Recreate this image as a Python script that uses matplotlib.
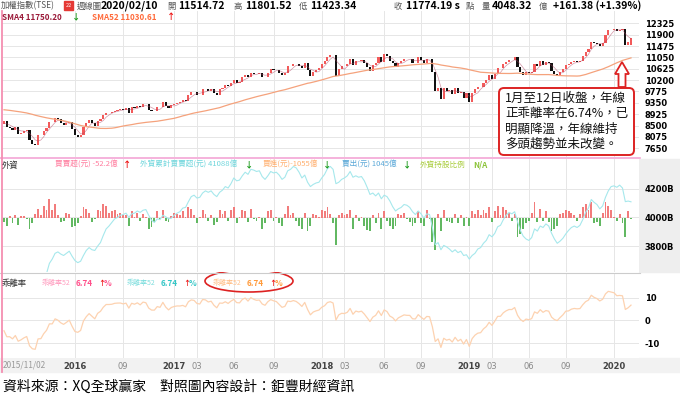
import numpy as np
import matplotlib
matplotlib.use("Agg")
import matplotlib.pyplot as plt
from matplotlib.patches import Rectangle, FancyBboxPatch, Ellipse, Polygon
from matplotlib.transforms import Affine2D

CJK = ["Noto Sans CJK TC", "DejaVu Sans"]

# ── data ────────────────────────────────────────────────────────────────────
# 52 weekly closes before the window (Nov 2014 - Oct 2015), only seed SMA52
pre_closes = [
    8950, 9000, 9050, 9187, 9150, 8950, 9050, 9250, 9290,
    9250, 9200, 9450, 9361, 9550, 9560, 9560, 9622,
    9600, 9540, 9740, 9590, 9600, 9900, 9950, 9970, 9820,
    9700, 9700, 9680, 9701, 9400, 9270, 9200, 9320,
    9400, 8970, 9000, 8790, 8665, 8300, 8050, 7786, 8020,
    8100, 8170, 8300, 8100, 8200, 8400, 8520, 8600, 8554,
]

# weekly TAIEX closes, 2015/11/02 .. 2020/02/10
closes = [
    8680, 8430, 8420, 8320,                       # 2015-11
    8440, 8200, 8240, 8300, 8338,                 # 2015-12
    7950, 7810, 7760, 8145,                       # 2016-01
    8130, 8300, 8410,                             # 02
    8640, 8620, 8800, 8730,                       # 03
    8610, 8530, 8580, 8640, 8377,                 # 04
    8150, 8090, 8130, 8460,                       # 05
    8600, 8700, 8590, 8480,                       # 06
    8670, 8730, 8880, 8980, 8984,                 # 07
    9000, 9050, 9080, 9110,                       # 08
    9100, 9150, 8980, 9180, 9166,                 # 09
    9240, 9180, 9300, 9290,                       # 10
    9100, 9030, 9040, 9190,                       # 11
    9180, 9390, 9230, 9140, 9254,                 # 12
    9310, 9360, 9390, 9448,                       # 2017-01
    9420, 9650, 9750, 9760,                       # 02
    9660, 9660, 9860, 9870, 9811,                 # 03
    9870, 9730, 9650, 9872,                       # 04
    9900, 10000, 9970, 10100,                     # 05
    10200, 10100, 10120, 10300, 10395,            # 06
    10300, 10480, 10440, 10427,                   # 07
    10470, 10330, 10300, 10480, 10600,            # 08
    10580, 10580, 10480, 10384,                   # 09
    10450, 10710, 10720, 10794,                   # 10
    10790, 10730, 10640, 10850, 10570,            # 11
    10350, 10500, 10580, 10643,                   # 12
    10800, 10900, 11080, 11150, 11127,            # 2018-01
    10370, 10620, 10710,                          # 02
    10720, 10800, 11000, 10750, 10919,            # 03
    10900, 10960, 10850, 10690,                   # 04
    10530, 10750, 10850, 11080, 10875,            # 05
    11160, 11100, 10900, 10837,                   # 06
    10690, 10840, 10920, 11000,                   # 07
    10990, 11000, 10850, 10850, 11064,            # 08
    10950, 10850, 11000, 10998,                   # 09
    10517, 9806, 9919, 9490,                      # 10
    9907, 9800, 9830, 9680, 9888,                 # 11
    9700, 9770, 9530, 9727,                       # 12
    9380, 9720, 9860, 9930, 9932,                 # 2019-01
    10100, 10200, 10390,                          # 02
    10240, 10430, 10640, 10641,                   # 03
    10800, 10890, 10950, 10950, 11050,            # 04
    10700, 10500, 10400, 10498,                   # 05
    10460, 10500, 10800, 10731,                   # 06
    10900, 10780, 10860, 10830, 10550,            # 07
    10430, 10370, 10500, 10618,                   # 08
    10780, 10790, 10870, 10900,                   # 09
    10880, 10900, 11100, 11270, 11380,            # 10
    11640, 11580, 11560, 11489,                   # 11
    11600, 11900, 12070, 12090,                   # 12
    12110, 12025, 12090, 12118.71, 11495.10,      # 2020-01
    11612.81, 11774.19,                           # 02
]
weeks_per_month = [4, 5,
                   4, 3, 4, 5, 4, 4, 5, 4, 5, 4, 4, 5,
                   4, 4, 5, 4, 4, 5, 4, 5, 4, 4, 5, 4,
                   5, 3, 5, 4, 5, 4, 4, 5, 4, 4, 5, 4,
                   5, 3, 4, 5, 4, 4, 5, 4, 4, 5, 4, 4,
                   5, 2]
last_open = 11514.72

# foreign net buy per week (億)
net_buy = [
    -150, -300, 80, -200,
    120, -250, 60, 90, -40,
    -400, -200, 150, 350,
    100, 450, 300,
    700, 300, 500, 100,
    -150, -100, 200, 150, -350,
    -300, -200, 80, 400,
    350, 200, -150, -50,
    300, 250, 500, 450, 200,
    250, 300, 150, 200,
    100, 120, -300, 250, 50,
    200, -100, 150, 50,
    -400, -350, -150, 250,
    -50, 300, -100, -150, 80,
    200, 150, 100, 250,
    50, 400, 350, 100,
    -200, 50, 300, 150, -100,
    100, -250, -150, 300,
    150, 250, -100, 300,
    400, -200, 50, 300, 250,
    -150, 350, -50, -100,
    50, -400, -200, 250, 300,
    -100, 50, -200, -300,
    150, 450, 100, 200,
    -100, -300, -400, 200, -500,
    -300, 150, 100, 50,
    300, 250, 400, 150, -200,
    -1000, 100, 200,
    100, 150, 300, -400, 100,
    -100, 50, -300, -450,
    -500, 100, -200, 200, -400,
    250, -100, -300, -400,
    -300, 150, 100, 200,
    -50, -150, -300, -200, 250,
    -200, -300, 300, -50,
    -900, -1200, 150, -500,
    300, -100, -150, -200, 150,
    -200, 100, -300, 50,
    -300, 250, 150, 300, 100,
    300, 200, 400,
    -150, 250, 450, 100,
    400, 300, 200, -100, 150,
    -700, -600, -400, -200,
    -100, 200, 600, -150,
    350, -100, 250, -150, -500,
    -400, -300, 150, 200,
    300, 250, 200, 100,
    -100, 150, 400, 500, 300,
    600, -200, -150, -300,
    200, 600, 450, 300,
    50, -100, 150, -200, -700,
    250, -52.2,
]

# foreign cumulative net buy (B = 10億)
foreign_total = [
    3580, 3555, 3550, 3540,
    3550, 3535, 3530, 3540, 3535,
    3500, 3485, 3495, 3525,
    3535, 3580, 3610,
    3680, 3710, 3750, 3760,
    3745, 3735, 3750, 3765, 3730,
    3700, 3685, 3695, 3735,
    3770, 3790, 3775, 3770,
    3800, 3825, 3875, 3920, 3940,
    3965, 3990, 4000, 4015,
    4020, 4030, 4000, 4025, 4030,
    4045, 4035, 4050, 4055,
    4015, 3980, 3965, 3990,
    3985, 4015, 4005, 3990, 3995,
    4015, 4030, 4040, 4065,
    4070, 4110, 4145, 4155,
    4135, 4140, 4170, 4185, 4175,
    4185, 4160, 4145, 4175,
    4190, 4215, 4205, 4235,
    4275, 4255, 4260, 4290, 4315,
    4300, 4335, 4330, 4320,
    4325, 4285, 4265, 4290, 4320,
    4310, 4315, 4295, 4265,
    4280, 4325, 4335, 4355,
    4345, 4315, 4275, 4295, 4245,
    4215, 4230, 4240, 4245,
    4275, 4300, 4340, 4355, 4335,
    4235, 4245, 4265,
    4275, 4290, 4320, 4280, 4290,
    4280, 4285, 4255, 4210,
    4160, 4170, 4150, 4170, 4130,
    4155, 4145, 4115, 4075,
    4045, 4060, 4070, 4090,
    4085, 4070, 4040, 4020, 4045,
    4025, 3995, 4025, 4020,
    3930, 3810, 3825, 3775,
    3805, 3795, 3780, 3760, 3775,
    3755, 3765, 3735, 3740,
    3710, 3735, 3750, 3780, 3790,
    3820, 3840, 3880,
    3865, 3890, 3935, 3945,
    3985, 4015, 4035, 4025, 4040,
    3970, 3910, 3870, 3850,
    3840, 3860, 3920, 3905,
    3940, 3930, 3955, 3940, 3890,
    3850, 3820, 3835, 3855,
    3885, 3910, 3930, 3940,
    3930, 3945, 3985, 4035, 4065,
    4125, 4105, 4090, 4060,
    4080, 4140, 4185, 4215,
    4220, 4210, 4225, 4205, 4110,
    4114, 4108.8,
]

price_ticks = [7650, 8075, 8500, 8925, 9350, 9775, 10200, 10625,
               11050, 11475, 11900, 12325]
flow_ticks = [3800, 4000, 4200]
bias_ticks = [-10, 0, 10]
date_ticks = [("2016", 2016, 5), ("09", 2016, 9), ("2017", 2017, 1),
              ("03", 2017, 3), ("06", 2017, 6), ("09", 2017, 9),
              ("2018", 2018, 1), ("03", 2018, 3), ("06", 2018, 6),
              ("09", 2018, 9), ("2019", 2019, 1), ("03", 2019, 3),
              ("06", 2019, 6), ("09", 2019, 9), ("2020", 2020, 1)]

# ── derived series ──────────────────────────────────────────────────────────
assert sum(weeks_per_month) == len(closes) == len(net_buy) == len(foreign_total)
n = len(closes)
x = np.arange(n)
c = np.array(closes, dtype=float)
o = np.concatenate([[pre_closes[-1]], c[:-1]])
o[-1] = last_open
allc = np.array(pre_closes + closes, dtype=float)
sma52 = np.convolve(allc, np.ones(52) / 52, mode="valid")[1:]
sma4 = np.convolve(allc, np.ones(4) / 4, mode="valid")[-n:]
bias = (c / sma52 - 1) * 100
nb = np.array(net_buy, dtype=float)

first_bar = {}
i = 0
y0, m0 = 2015, 11
for k, cnt in enumerate(weeks_per_month):
    yy = y0 + (m0 - 1 + k) // 12
    mm = (m0 - 1 + k) % 12 + 1
    first_bar[(yy, mm)] = i
    i += cnt

# ── figure ──────────────────────────────────────────────────────────────────
W, H = 680, 408
fig = plt.figure(figsize=(W / 100, H / 100), dpi=100)
fig.patch.set_facecolor("white")
pix = Affine2D().scale(1 / W, -1 / H).translate(0, 1) + fig.transFigure


def add_ax(top, bottom):
    return fig.add_axes([2 / W, 1 - bottom / H, 637 / W, (bottom - top) / H])


def ftext(px, py, s, size=6, color="black", weight="normal", ha="left", family=CJK):
    fig.text(px, py, s, transform=pix, fontsize=size, color=color,
             fontweight=weight, ha=ha, va="center", family=family)


ax1 = add_ax(11, 157)
axb = add_ax(159, 272)          # net-buy bars, own scale
ax2 = add_ax(159, 272)          # cumulative line + B axis, drawn on top
ax3 = add_ax(274, 358)

per = (631 - 4) / (n - 1)
xlim = (-(4 - 2) / per, (n - 1) + (639 - 631) / per)
tick_pos = [first_bar[(yy, mm)] for _, yy, mm in date_ticks]
grid_c = "#e6e6e6"

for ax in (ax1, axb, ax2, ax3):
    ax.set_xlim(*xlim)
    for s in ax.spines.values():
        s.set_visible(False)
    ax.yaxis.tick_right()
    ax.tick_params(axis="y", length=0, pad=4, labelsize=6)
    ax.tick_params(axis="x", length=0)
    ax.set_xticks(tick_pos)
    ax.grid(True, color=grid_c, lw=0.7)
    ax.set_axisbelow(True)

# price panel
ax1.set_ylim(7325, 12785)
ax1.set_yticks(price_ticks)
ax1.set_yticklabels([str(v) for v in price_ticks], fontweight="bold")
ax1.set_xticklabels([])
up = c >= o
ax1.bar(x[up], (c - o)[up], bottom=o[up], width=0.75, color="#f25a5a", lw=0)
ax1.bar(x[~up], (c - o)[~up], bottom=o[~up], width=0.75, color="#111111", lw=0)
ax1.plot(x, sma4, color="#b04060", lw=0.5, alpha=0.55)
ax1.plot(x, sma52, color="#f5a27c", lw=0.9)

# foreign flow panel: bars zero sits on the 4000B line
b_lo, b_hi = -2000, 2185
axb.set_ylim(b_lo, b_hi)
axb.set_yticks([])
axb.set_xticklabels([])
axb.grid(False)
pos = nb >= 0
axb.bar(x[pos], nb[pos], width=0.65, color="#f27c7c", lw=0)
axb.bar(x[~pos], nb[~pos], width=0.65, color="#62b862", lw=0)
axb.set_zorder(1)

ax2.set_zorder(2)
ax2.patch.set_visible(False)
ax2.grid(False)
ax2.set_ylim(3620, 4407)
ax2.set_yticks(flow_ticks)
ax2.set_yticklabels([f"{v}B" for v in flow_ticks], fontweight="bold")
ax2.set_xticklabels([])
ax2.plot(x, foreign_total, color="#a6e8ec", lw=0.8)
# grid of the flow panel, drawn in the bar axes so it stays behind the bars
for v in flow_ticks:
    fy = (v - 3620) / (4407 - 3620)
    axb.axhline(b_lo + fy * (b_hi - b_lo), color=grid_c, lw=0.7, zorder=0)
for t in tick_pos:
    axb.axvline(t, color=grid_c, lw=0.7, zorder=0)

# bias panel
ax3.set_ylim(-16.5, 20.4)
ax3.set_yticks(bias_ticks)
ax3.set_yticklabels([str(v) for v in bias_ticks], fontweight="bold")
ax3.plot(x, bias, color="#fdd2b0", lw=0.9)
ax3.set_xticks(tick_pos)
ax3.set_xticklabels([t for t, _, _ in date_ticks])
for lab in ax3.get_xticklabels():
    yr = len(lab.get_text()) == 4
    lab.set_fontweight("bold" if yr else "normal")
    lab.set_color("#444444" if yr else "#888888")
    lab.set_fontsize(6)
ax3.tick_params(axis="x", pad=3)

# frame pieces
fig.add_artist(Rectangle((0, 358), W, 14, transform=pix, color="#f2f2f2", zorder=-2))
fig.add_artist(Rectangle((639, 159), 41, 113, transform=pix, color="#eeeeee", zorder=-2))
fig.add_artist(plt.Line2D([0, 640], [158, 158], transform=pix, color="#f3a6d6", lw=1.2))
fig.add_artist(plt.Line2D([0, 640], [273, 273], transform=pix, color="#cccccc", lw=0.8))
fig.add_artist(plt.Line2D([1.5, 1.5], [11, 372], transform=pix, color="#f48fb1", lw=1.3))
ftext(3, 365, "2015/11/02", size=6, color="#999999")

# header line
gray = "#555555"
ftext(1, 6, "加權指數(TSE)", size=6, color=gray)
fig.add_artist(Rectangle((64, 1), 9, 9, transform=pix, color="#e53935"))
ftext(68.5, 5.5, "22", size=4, color="white", ha="center")
ftext(77, 6, "週線圖", size=6, color=gray)
ftext(101, 6, "2020/02/10", size=7.5, weight="bold")
ftext(167, 6, "開", size=6, color=gray)
ftext(178, 6, "11514.72", size=7.5, weight="bold")
ftext(234, 6, "高", size=6, color=gray)
ftext(245, 6, "11801.52", size=7.5, weight="bold")
ftext(299, 6, "低", size=6, color=gray)
ftext(310, 6, "11423.34", size=7.5, weight="bold")
ftext(394, 6, "收", size=6, color=gray)
ftext(406, 6, "11774.19 s", size=7.5, weight="bold")
ftext(466, 6, "點", size=6, color=gray)
ftext(482, 6, "量", size=6, color=gray)
ftext(492, 6, "4048.32", size=7.5, weight="bold")
ftext(539, 6, "億", size=6, color=gray)
ftext(553, 6, "+161.38 (+1.39%)", size=7.5, weight="bold")

# SMA legend
ftext(2, 17, "SMA4 11750.20", size=5.8, color="#9b1b3a", weight="bold")
ftext(72, 17, "↓", size=6, color="#1a9a1a", weight="bold")
ftext(92, 17, "SMA52 11030.61", size=5.8, color="#ff6a3a", weight="bold")
ftext(167, 17, "↑", size=6, color="#ee1111", weight="bold")

# flow legend
ftext(2, 165, "外資", size=6, color="#333333")
fig.add_artist(Rectangle((33, 162), 6, 6, transform=pix, color="#a65fd8"))
ftext(55, 165, "買賣超(元) -52.2億", size=5.5, color="#ff7fa0")
ftext(123, 165, "↑", size=6, color="#ee1111", weight="bold")
ftext(140, 165, "外資累計買賣超(元) 41088億", size=5.5, color="#6fd6dc")
ftext(245, 165, "↓", size=6, color="#1a9a1a", weight="bold")
ftext(263, 165, "買進(元)-1055億", size=5.5, color="#ffb070")
ftext(323, 165, "↓", size=6, color="#1a9a1a", weight="bold")
ftext(342, 165, "賣出(元) 1045億", size=5.5, color="#5aa8d8")
ftext(403, 165, "↓", size=6, color="#1a9a1a", weight="bold")
ftext(420, 165, "外資持股比例", size=5.5, color="#a8cc3a")
ftext(473, 165, "N/A", size=5.8, color="#8cc43a", weight="bold")

# bias legend
ftext(2, 283, "乖離率", size=6, color="#333333")
for x0, c1, c2 in [(42, "#ff9ec0", "#ff4f8a"), (127, "#7fdede", "#33c6c6"),
                   (213, "#ffc08a", "#ff9a3a")]:
    ftext(x0, 283, "乖離率52", size=5, color=c1)
    ftext(x0 + 34, 283, "6.74", size=5.8, color=c2, weight="bold")
    ftext(x0 + 56, 283, "↑", size=5, color="#ee1111", weight="bold")
    ftext(x0 + 62, 283, "%", size=5.8, color=c2, weight="bold")
fig.add_artist(Ellipse((249, 281), 88, 22, transform=pix, fill=False,
                       ec="#dd2222", lw=1.2))

# annotation box and arrow
fig.add_artist(FancyBboxPatch((499, 88), 135, 67, transform=pix,
                              boxstyle="round,pad=0,rounding_size=5",
                              fc="white", ec="#dd2222", lw=1.4))
fig.text(505 / W, 1 - 121.5 / H,
         "1月至12日收盤，年線\n正乖離率在6.74%，已\n明顯降溫，年線維持\n多頭趨勢並未改變。",
         fontsize=9, family=CJK, va="center", ha="left", linespacing=1.25,
         color="#111111")
arrow_pts = [(622, 62), (629, 74), (625.5, 74), (625.5, 87),
             (618.5, 87), (618.5, 74), (615, 74)]
fig.add_artist(Polygon(arrow_pts, closed=True, transform=pix, fc="white",
                       ec="#dd2222", lw=1.3))

# footer
ftext(3, 387, "資料來源：XQ全球贏家　對照圖內容設計：鉅豐財經資訊",
      size=10, color="black", weight="medium")

fig.savefig("out.png", dpi=100)
